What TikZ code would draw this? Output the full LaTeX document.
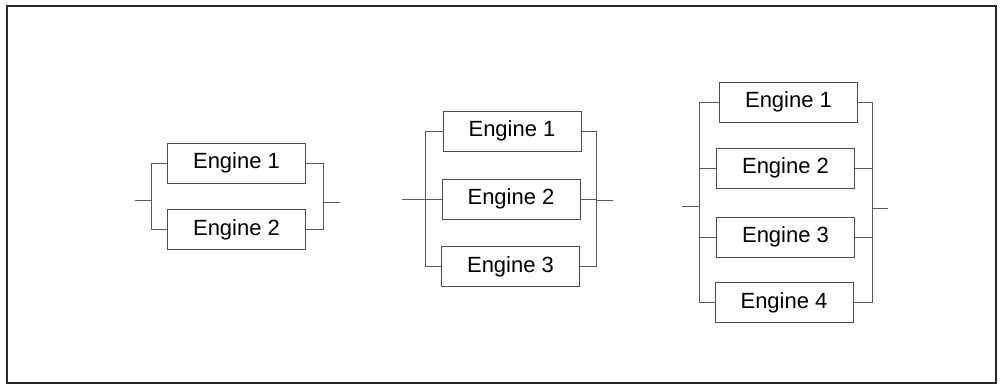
\documentclass[tikz,border=0pt]{standalone}
\usepackage{fontspec}
\setmainfont{Liberation Sans}
\begin{document}
\begin{tikzpicture}[x=1pt,y=-1pt,
  eng/.style={draw=black!70, line width=0.8pt, minimum width=138pt, minimum height=40pt, inner sep=0pt, font=\fontsize{22}{26}\selectfont},
  wire/.style={draw=black!65, line width=0.8pt}]
\useasboundingbox (0,0) rectangle (1001,390);
\draw[line width=2pt, black!85] (7,6) rectangle (996,383);
% group 1
\node[eng] (a1) at (236.5,163) {Engine 1};
\node[eng] (a2) at (236.5,229.5) {Engine 2};
\coordinate (ain) at (135,200);
\coordinate (aL) at (151,200);
\coordinate (aR) at (323,202);
\coordinate (aout) at (340,202);
\draw[wire] (ain) -- (aL);
\draw[wire] (a1.west) -- (a1.west -| aL) -- (a2.west -| aL) -- (a2.west);
\draw[wire] (a1.east) -- (a1.east -| aR) -- (a2.east -| aR) -- (a2.east);
\draw[wire] (aR) -- (aout);
% group 2
\node[eng] (b1) at (512,131) {Engine 1};
\node[eng] (b2) at (511,199) {Engine 2};
\node[eng] (b3) at (510.5,266.5) {Engine 3};
\coordinate (bin) at (402,199);
\coordinate (bL) at (425,199);
\coordinate (bR) at (596,200);
\coordinate (bout) at (613,200);
\draw[wire] (bin) -- (bL);
\draw[wire] (b1.west) -- (b1.west -| bL) -- (b3.west -| bL) -- (b3.west);
\draw[wire] (b2.west) -- (b2.west -| bL);
\draw[wire] (b1.east) -- (b1.east -| bR) -- (b3.east -| bR) -- (b3.east);
\draw[wire] (b2.east) -- (b2.east -| bR);
\draw[wire] (bR) -- (bout);
% group 3
\node[eng] (c1) at (788.5,102) {Engine 1};
\node[eng] (c2) at (785.5,168) {Engine 2};
\node[eng] (c3) at (785.5,237) {Engine 3};
\node[eng] (c4) at (784,302.5) {Engine 4};
\coordinate (cin) at (682,206);
\coordinate (cL) at (699,206);
\coordinate (cR) at (872,208);
\coordinate (cout) at (888,208);
\draw[wire] (cin) -- (cL);
\draw[wire] (c1.west) -- (c1.west -| cL) -- (c4.west -| cL) -- (c4.west);
\draw[wire] (c2.west) -- (c2.west -| cL);
\draw[wire] (c3.west) -- (c3.west -| cL);
\draw[wire] (c1.east) -- (c1.east -| cR) -- (c4.east -| cR) -- (c4.east);
\draw[wire] (c2.east) -- (c2.east -| cR);
\draw[wire] (c3.east) -- (c3.east -| cR);
\draw[wire] (cR) -- (cout);
\end{tikzpicture}
\end{document}
